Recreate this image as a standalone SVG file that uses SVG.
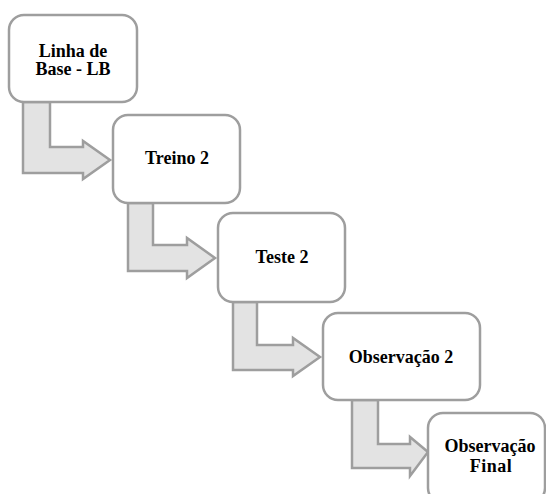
<svg xmlns="http://www.w3.org/2000/svg" width="546" height="494" viewBox="0 0 546 494">
<style>
.box{fill:#ffffff;stroke:#9e9e9e;stroke-width:2.5}
.arr{fill:#e3e3e3;stroke:#9e9e9e;stroke-width:2.5;stroke-linejoin:miter}
.t{font-family:"Liberation Serif","Times New Roman",serif;font-weight:bold;font-size:18px;fill:#000;text-anchor:middle}
</style>
<rect width="546" height="494" fill="#ffffff"/>
<g id="connectors">
<path class="arr" d="M23,102 L50,102 L50,147 L83,147 L83,141 L110,160 L83,179 L83,173 L23,173 Z"/>
<path class="arr" d="M128,203 L153,203 L153,245 L187,245 L187,238 L215,258 L187,278 L187,271 L128,271 Z"/>
<path class="arr" d="M233,302 L257,302 L257,345 L293,345 L293,338 L320,357 L293,376 L293,370 L233,370 Z"/>
<path class="arr" d="M352,400 L378,400 L378,444 L410,444 L410,437 L428,452 L410,476 L410,468 L352,468 Z"/>
</g>
<g id="node1">
<rect class="box" x="9" y="15" width="128" height="87" rx="15"/>
<text class="t" x="73" y="57">Linha de</text>
<text class="t" x="73" y="75">Base - LB</text>
</g>
<g id="node2">
<rect class="box" x="113" y="115" width="127" height="88" rx="15"/>
<text class="t" x="177" y="164">Treino 2</text>
</g>
<g id="node3">
<rect class="box" x="218" y="213" width="127" height="89" rx="15"/>
<text class="t" x="282" y="263">Teste 2</text>
</g>
<g id="node4">
<rect class="box" x="323" y="313" width="157" height="87" rx="15"/>
<text class="t" x="401" y="363">Observação 2</text>
</g>
<g id="node5">
<rect class="box" x="428" y="413" width="117" height="90" rx="15"/>
<text class="t" x="490" y="452">Observação</text>
<text class="t" x="491" y="472" letter-spacing="0.5">Final</text>
</g>
</svg>
